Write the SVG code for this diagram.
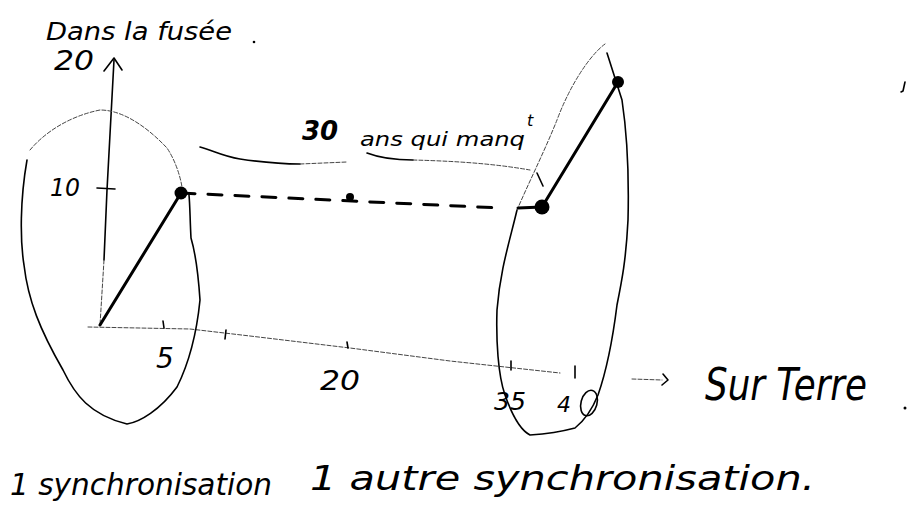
<svg xmlns="http://www.w3.org/2000/svg" width="909" height="517" viewBox="0 0 909 517">
<style>
.ink{fill:none;stroke:#000;stroke-linecap:round;stroke-linejoin:round}
.thin{stroke-width:1.6}
.faint{stroke-width:1;stroke:#444;stroke-dasharray:4 2}
.thick{stroke-width:3}
.hand{font-family:"DejaVu Sans","Liberation Sans",sans-serif;font-style:italic;fill:#000}
</style>
<rect width="909" height="517" fill="#fff"/>
<g id="axes">
<path class="ink thin" d="M114,60 L107,190 L104,260"/>
<path class="ink faint" d="M104,260 L100,325"/>
<path class="ink thin" d="M104,71 L114,58 L122,70"/>
<path class="ink thin" d="M97,188 L115,189"/>
<path class="ink faint" d="M88,327 L190,329 L250,336 L350,348 L450,361 L560,373"/>
<path class="ink thin" d="M163,321 L164,328 M226,330 L225,339 M347,342 L348,348 M511,361 L511,370 M575,366 L575,378"/>
<path class="ink faint" d="M632,379 L662,380"/>
<path class="ink thin" d="M663,374 L668,380 L662,385"/>
</g>
<g id="blob-left">
<path class="ink thin" d="M27,160 C20,200 20,240 24,265 C28,300 40,330 63,370 C75,395 90,415 127,424 C140,422 160,410 177,387 C188,365 196,340 200,300 C198,270 196,255 191,238 C190,220 190,205 189,195"/>
<path class="ink faint" d="M30,150 C45,132 70,116 100,110 C125,110 150,130 167,148 C175,160 180,175 182,187"/>
</g>
<g id="blob-right">
<path class="ink thin" d="M517,210 C510,240 500,270 497,310 C496,340 498,375 505,395 C512,415 520,430 530,435 C545,434 560,432 575,428 C585,420 592,410 598,395 C605,375 612,345 617,305 C622,280 626,260 628,220 C629,180 628,140 622,100 L607,53"/>
<path class="ink faint" d="M605,44 C590,55 570,85 557,120 C545,150 530,180 517,210"/>
<ellipse class="ink thin" cx="589" cy="403" rx="8" ry="13" transform="rotate(15 589 403)"/>
</g>
<g id="curve-30">
<path class="ink thin" d="M200,147 C212,150 222,156 240,159 C260,162 280,164 300,164"/>
<path class="ink faint" d="M300,164 L347,162"/>
<path class="ink thin" d="M367,153 C380,158 395,160 413,160"/>
<path class="ink faint" d="M413,160 C450,161 490,163 530,170"/>
<path class="ink thin" d="M537,173 L543,186"/>
</g>
<g id="connectors">
<path class="ink thick" d="M100,325 L181,193"/>
<path class="ink thick" d="M181,193 L500,208" stroke-dasharray="14 13"/>
<path class="ink thick" d="M518,208 L542,207"/>
<path class="ink thick" d="M542,207 L618,82"/>
<circle cx="181" cy="193" r="6.5"/>
<circle cx="350" cy="197" r="4"/>
<circle cx="542" cy="207" r="7.5"/>
<circle cx="618" cy="82" r="6"/>
</g>
<g id="labels">
<text class="hand" x="46" y="40" font-size="25" textLength="186" lengthAdjust="spacingAndGlyphs">Dans la fusée</text>
<circle cx="254" cy="42" r="1.3"/>
<text class="hand" x="54" y="70" font-size="26" textLength="40" lengthAdjust="spacingAndGlyphs">20</text>
<text class="hand" x="50" y="196" font-size="24" textLength="30" lengthAdjust="spacingAndGlyphs">10</text>
<text class="hand" x="156" y="368" font-size="28">5</text>
<text class="hand" x="320" y="390" font-size="26" textLength="40" lengthAdjust="spacingAndGlyphs">20</text>
<text class="hand" x="494" y="410" font-size="24" textLength="32" lengthAdjust="spacingAndGlyphs">35</text>
<text class="hand" x="557" y="412" font-size="22">4</text>
<text class="hand" x="302" y="140" font-size="26" font-weight="bold" font-style="normal">30</text>
<text class="hand" x="360" y="146" font-size="20" textLength="165" lengthAdjust="spacingAndGlyphs">ans qui manq</text>
<text class="hand" x="527" y="126" font-size="16">t</text>
<text class="hand" x="705" y="400" font-size="44" textLength="162" lengthAdjust="spacingAndGlyphs">Sur Terre</text>
<circle cx="905" cy="408" r="1.5"/>
<text class="hand" x="10" y="495" font-size="30" textLength="262" lengthAdjust="spacingAndGlyphs">1 synchronisation</text>
<text class="hand" x="310" y="490" font-size="34" textLength="505" lengthAdjust="spacingAndGlyphs">1 autre synchronisation.</text>
<path class="ink thin" d="M905,82 L903,91 L901,92"/>
</g>
</svg>
